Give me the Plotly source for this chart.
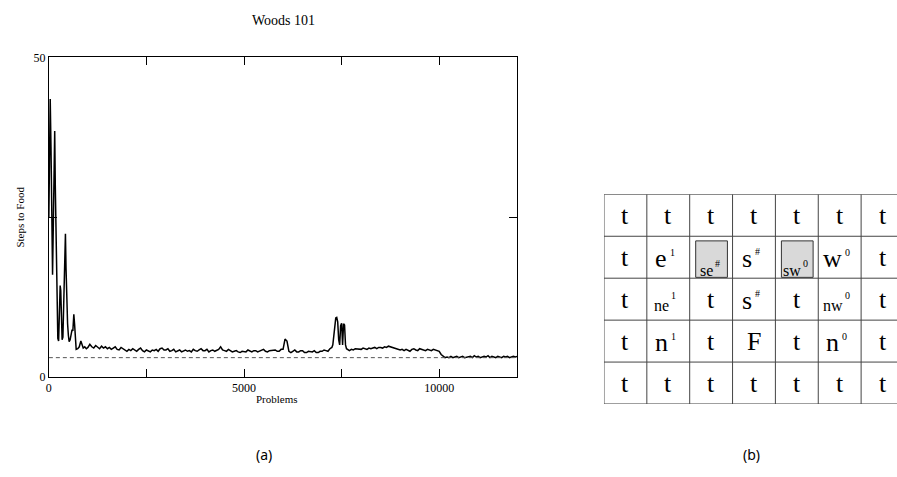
import plotly.graph_objects as go

# ---------------- data ----------------
# early learning phase (problems, steps)
EARLY_X = [0, 15, 35, 55, 75, 95, 115, 135, 150, 165, 180, 200, 215, 230, 250, 270, 290, 305, 320, 340,
           360, 385, 405, 425, 440, 460, 480, 500, 520, 545, 570, 595, 615, 640, 660, 680, 700, 740, 780,
           820, 850, 880, 920, 960]
EARLY_Y = [25, 40, 43.5, 36, 22, 16, 24, 36, 38.5, 30, 24, 14, 8, 6, 5.6, 9, 14.3, 13.5, 8, 5.8,
           6.2, 12, 18, 22.4, 17, 11, 8.3, 6.5, 5.5, 5.8, 6.8, 7.4, 7.2, 9.8, 8.2, 5.5, 4.3, 4.4, 4.7,
           5.6, 4.9, 4.5, 4.7, 4.4]
# steps sampled every 50 problems, 1000 .. 7250
MID_START, MID_STEP = 1000, 50
MID_Y = [4.6, 5.1, 4.7, 4.5, 4.9, 4.6, 4.4, 4.8, 4.5, 4.7,
         4.4, 4.6, 4.3, 4.5, 4.7, 4.3, 4.2, 4.6, 4.4, 4.1,
         4.0, 4.3, 4.1, 4.4, 4.2, 4.0, 4.3, 4.5, 4.1, 3.9,
         4.2, 4.0, 3.9, 4.2, 4.1, 4.3, 4.0, 4.4, 4.5, 4.2,
         4.2, 4.4, 4.0, 4.1, 4.3, 3.9, 4.1, 4.2, 3.9, 4.0,
         4.2, 4.0, 4.1, 3.9, 4.3, 4.1, 4.0, 4.2, 4.4, 4.1,
         4.1, 4.3, 3.9, 4.1, 4.2, 4.0, 4.1, 4.3, 4.7, 4.2,
         4.1, 4.0, 4.3, 4.1, 3.9, 4.0, 4.1, 3.9, 3.8, 4.0,
         4.0, 3.9, 4.2, 4.0, 3.9, 4.1, 4.1, 3.9, 4.0, 4.2,
         4.3, 4.0, 3.9, 4.1, 4.1, 4.2, 4.2, 4.0, 4.0, 4.3,
         4.3, 5.9, 5.6, 4.0, 3.8, 4.0, 4.2, 3.9, 3.9, 4.1,
         4.1, 3.8, 3.8, 4.0, 4.0, 3.9, 4.1, 3.8, 3.8, 4.0,
         4.0, 4.2, 4.1, 4.0, 4.4, 4.6]
# relapse bump around 7300-7600
BUMP_X = [7275, 7300, 7325, 7350, 7375, 7400, 7425, 7450, 7475, 7500, 7525, 7550, 7575, 7600, 7625]
BUMP_Y = [5.0, 6.5, 8.5, 9.2, 9.3, 8.6, 5.8, 5.0, 8.0, 8.4, 5.0, 8.3, 8.1, 5.0, 4.4]
# steps sampled every 50 problems, 7650 .. 12000
LATE_START, LATE_STEP = 7650, 50
LATE_Y = [4.3, 4.1, 4.3, 4.2, 4.4, 4.4, 4.3,
          4.3, 4.5, 4.4, 4.3, 4.5, 4.4, 4.5, 4.6, 4.4, 4.6,
          4.6, 4.5, 4.7, 4.6, 4.8, 4.7, 4.6, 4.5, 4.4, 4.3,
          4.2, 4.3, 4.1, 4.3, 4.2, 4.0, 4.3, 4.4, 4.2, 4.1,
          4.4, 4.3, 4.2, 4.1, 4.3, 4.2, 4.1, 4.3, 4.2, 4.1,
          4.0, 3.5, 3.2, 3.0, 3.1, 3.0, 3.2, 3.0, 3.1, 3.2,
          3.0, 3.1, 3.2, 3.0, 3.1, 3.1, 3.2, 3.0, 3.3, 3.1,
          3.2, 3.0, 3.1, 3.2, 3.1, 3.3, 3.0, 3.2, 3.1, 3.0,
          3.2, 3.1, 3.0, 3.2, 3.1, 3.2, 3.0, 3.1, 3.2, 3.1,
          3.2]
OPTIMUM = 3.0
X_MAX = 12000
Y_MAX = 50
X_TICKS = [0, 2500, 5000, 7500, 10000]
X_TICK_TEXT = ["0", "", "5000", "", "10000"]
Y_TICKS = [0, 25, 50]
Y_TICK_TEXT = ["0", "", "50"]

CELL_BASE = [
    ["t", "t", "t", "t", "t", "t", "t"],
    ["t", "e", "se", "s", "sw", "w", "t"],
    ["t", "ne", "t", "s", "t", "nw", "t"],
    ["t", "n", "t", "F", "t", "n", "t"],
    ["t", "t", "t", "t", "t", "t", "t"],
]
CELL_SUP = [
    ["", "", "", "", "", "", ""],
    ["", "1", "#", "#", "0", "0", ""],
    ["", "1", "", "#", "", "0", ""],
    ["", "1", "", "", "", "0", ""],
    ["", "", "", "", "", "", ""],
]
HIGHLIGHT = [(1, 2), (1, 4)]

# ---------------- assemble series ----------------
MID_X = list(range(MID_START, MID_START + MID_STEP * len(MID_Y), MID_STEP))
LATE_X = list(range(LATE_START, LATE_START + LATE_STEP * len(LATE_Y), LATE_STEP))
PROBLEMS = EARLY_X + MID_X + BUMP_X + LATE_X
STEPS = EARLY_Y + MID_Y + BUMP_Y + LATE_Y

# ---------------- figure ----------------
W, H = 897, 477
SERIF = "Liberation Serif, Times New Roman, serif"


def px_x(p):
    return p / W


def px_y(p):
    return (H - p) / H


fig = go.Figure()
fig.add_trace(go.Scatter(x=PROBLEMS, y=STEPS, mode="lines",
                         line=dict(color="black", width=1.5), xaxis="x", yaxis="y",
                         showlegend=False, hoverinfo="skip"))
fig.add_trace(go.Scatter(x=[0, X_MAX], y=[OPTIMUM, OPTIMUM], mode="lines",
                         line=dict(color="#555", width=1, dash="4px,3px"), xaxis="x", yaxis="y",
                         showlegend=False, hoverinfo="skip"))

axis_common = dict(showline=True, mirror="ticks", linecolor="black", linewidth=1,
                   ticks="inside", ticklen=8, tickcolor="black", tickwidth=1,
                   showgrid=False, zeroline=False,
                   tickfont=dict(family=SERIF, size=12, color="black"))

fig.update_layout(
    width=W, height=H,
    margin=dict(l=0, r=0, t=0, b=0),
    paper_bgcolor="white", plot_bgcolor="white",
    xaxis=dict(domain=[px_x(46), px_x(516)], range=[0, X_MAX], tickvals=X_TICKS,
               ticktext=X_TICK_TEXT, anchor="y", **axis_common),
    yaxis=dict(domain=[px_y(381), px_y(52)], range=[0, Y_MAX], tickvals=Y_TICKS,
               ticktext=Y_TICK_TEXT, anchor="x", **axis_common),
    xaxis2=dict(domain=[px_x(603), 1.0], range=[0, (W - 603) / 43.0], visible=False,
                anchor="y2", fixedrange=True),
    yaxis2=dict(domain=[px_y(409), px_y(193)], range=[5, 0], visible=False,
                anchor="x2", fixedrange=True),
)

ann = []


def paper_text(text, x, y, size, family=SERIF, angle=0):
    ann.append(dict(text=text, x=px_x(x), y=px_y(y), xref="paper", yref="paper",
                    showarrow=False, textangle=angle,
                    font=dict(family=family, size=size, color="black"),
                    xanchor="center", yanchor="middle"))


paper_text("Woods 101", 281, 14, 14)
paper_text("Problems", 275, 404, 11)
paper_text("Steps to Food", 17, 216, 11, angle=-90)
paper_text("(a)", 262, 461, 14, family="Noto Sans")
paper_text("(b)", 751, 461, 14, family="Noto Sans")

shapes = []
nrows, ncols = len(CELL_BASE), len(CELL_BASE[0])
for (r, c) in HIGHLIGHT:
    shapes.append(dict(type="rect", xref="x2", yref="y2", x0=c + 0.14, x1=c + 0.88,
                       y0=r + 0.11, y1=r + 0.98, fillcolor="#d9d9d9",
                       line=dict(color="#333", width=1), layer="below"))
for i in range(ncols + 1):
    shapes.append(dict(type="line", xref="x2", yref="y2", x0=i, x1=i, y0=0, y1=nrows,
                       line=dict(color="#444", width=1)))
for j in range(nrows + 1):
    shapes.append(dict(type="line", xref="x2", yref="y2", x0=0, x1=ncols, y0=j, y1=j,
                       line=dict(color="#444", width=1)))

# approximate Times glyph advance widths (em)
CHAR_W = {"t": 0.278, "e": 0.444, "s": 0.389, "w": 0.722, "n": 0.5, "F": 0.556}
BIG, SMALL, SUP = 26, 16, 10

for r in range(nrows):
    for c in range(ncols):
        base = CELL_BASE[r][c]
        sup = CELL_SUP[r][c]
        small = len(base) > 1
        size = SMALL if small else BIG
        boxed = (r, c) in HIGHLIGHT
        if not sup:
            ann.append(dict(text=base, x=c + 0.5, y=r + 0.5, xref="x2", yref="y2",
                            showarrow=False, xanchor="center", yanchor="middle",
                            font=dict(family=SERIF, size=size, color="black")))
            continue
        wb = sum(CHAR_W.get(ch, 0.5) for ch in base) * size
        gap = 2 if small else 3
        ws = 5
        total = wb + gap + ws
        left = -total / 2 - (1 if boxed else 3)
        base_dx = left + wb / 2
        sup_dx = left + wb + gap + ws / 2
        if boxed:
            base_dy, sup_dy = -13, -6
        elif small:
            base_dy, sup_dy = -6, 4
        else:
            base_dy, sup_dy = -1, 6 if sup == "#" else 5
        ann.append(dict(text=base, x=c + 0.5, y=r + 0.5, xref="x2", yref="y2",
                        showarrow=False, xanchor="center", yanchor="middle",
                        xshift=base_dx, yshift=base_dy,
                        font=dict(family=SERIF, size=size, color="black")))
        ann.append(dict(text=sup, x=c + 0.5, y=r + 0.5, xref="x2", yref="y2",
                        showarrow=False, xanchor="center", yanchor="middle",
                        xshift=sup_dx, yshift=sup_dy,
                        font=dict(family=SERIF, size=SUP, color="black")))

fig.update_layout(annotations=ann, shapes=shapes)
fig.write_html("out.html")
